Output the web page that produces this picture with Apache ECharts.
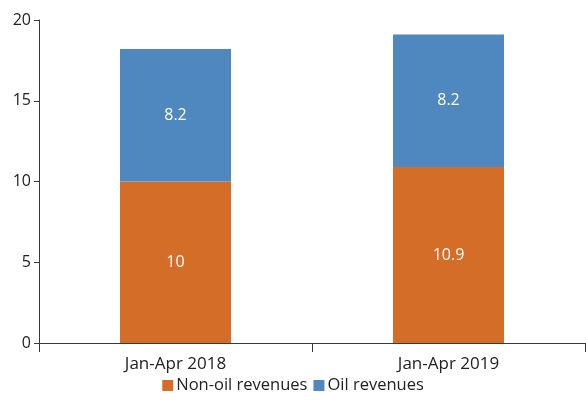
<!DOCTYPE html>
<html>
<head>
<meta charset="utf-8">
<script src="https://cdn.jsdelivr.net/npm/echarts@6/dist/echarts.min.js"></script>
<style>
html, body { margin: 0; padding: 0; background: #fff; }
#chart { width: 586px; height: 400px; }
</style>
</head>
<body>
<div id="chart"></div>
<script>
const categories = ['Jan-Apr 2018', 'Jan-Apr 2019'];
const nonOilRevenues = [10, 10.9];
const oilRevenues = [8.2, 8.2];
const yTicks = { min: 0, max: 20, interval: 5 };

const fontFamily = '"Open Sans", "Noto Sans", sans-serif';
const axisColor = '#3a3a3a';

const chart = echarts.init(document.getElementById('chart'));

const barLabel = {
    show: true,
    position: 'inside',
    color: '#fff',
    fontSize: 16,
    fontFamily: fontFamily
};

chart.setOption({
    animation: false,
    grid: {
        top: 20,
        left: 39,
        right: 1,
        bottom: 57
    },
    legend: {
        bottom: 1,
        left: 'center',
        itemWidth: 11,
        itemHeight: 11,
        itemGap: 6,
        icon: 'rect',
        textStyle: {
            color: '#222',
            fontSize: 16.5,
            fontFamily: fontFamily,
            padding: [0, 0, 0, -2]
        },
        data: ['Non-oil revenues', 'Oil revenues']
    },
    xAxis: {
        type: 'category',
        data: categories,
        axisLine: { lineStyle: { color: axisColor, width: 1 } },
        axisTick: { show: true, length: 9, alignWithLabel: false, lineStyle: { color: axisColor } },
        axisLabel: {
            color: '#222',
            fontSize: 17,
            fontFamily: fontFamily,
            margin: 13
        }
    },
    yAxis: {
        type: 'value',
        min: yTicks.min,
        max: yTicks.max,
        interval: yTicks.interval,
        splitLine: { show: false },
        axisLine: { show: true, lineStyle: { color: axisColor, width: 1 } },
        axisTick: { show: true, length: 5, lineStyle: { color: axisColor } },
        axisLabel: {
            color: '#222',
            fontSize: 16,
            fontFamily: fontFamily,
            margin: 8
        }
    },
    series: [
        {
            name: 'Non-oil revenues',
            type: 'bar',
            stack: 'total',
            barWidth: 111,
            data: nonOilRevenues,
            itemStyle: { color: '#d46d27' },
            label: barLabel
        },
        {
            name: 'Oil revenues',
            type: 'bar',
            stack: 'total',
            barWidth: 111,
            data: oilRevenues,
            itemStyle: { color: '#4f88be' },
            label: barLabel
        }
    ]
});
</script>
</body>
</html>
